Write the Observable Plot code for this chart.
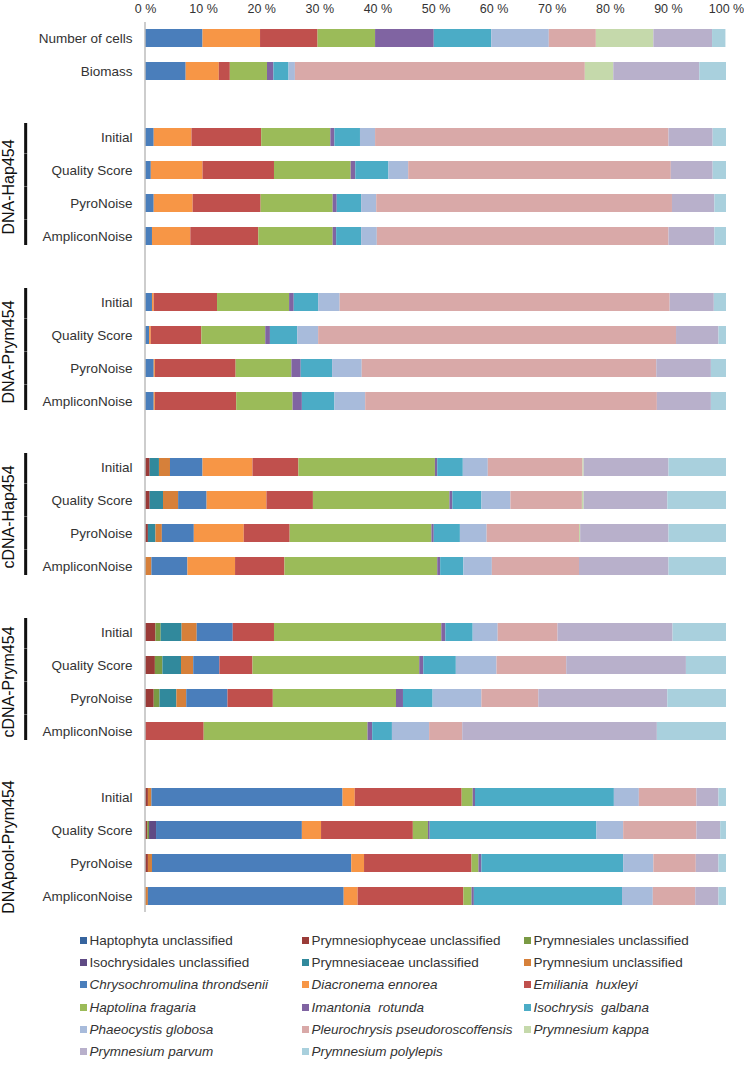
<!DOCTYPE html>
<html><head><meta charset="utf-8">
<script src="https://cdn.jsdelivr.net/npm/d3@7"></script>
<script src="https://cdn.jsdelivr.net/npm/@observablehq/plot@0.6"></script>
<style>
html,body{margin:0;padding:0;background:#fff;}
body{width:744px;font-family:"Liberation Sans",Arial,sans-serif;}
#legend{display:grid;grid-template-columns:222px 222px 222px;margin-left:80px;margin-top:4px;}
.item{height:22.3px;display:flex;align-items:center;font-size:13.5px;color:#333;white-space:pre;}
.sw{width:7px;height:7px;margin-right:2.5px;flex:none;}
</style></head>
<body><div id="chart"></div><div id="legend"></div>
<script>
// Taxa (legend / stacking order) and their colours
const taxa = [
  "Haptophyta unclassified", "Prymnesiophyceae unclassified", "Prymnesiales unclassified",
  "Isochrysidales unclassified", "Prymnesiaceae unclassified", "Prymnesium unclassified",
  "Chrysochromulina throndsenii", "Diacronema ennorea", "Emiliania  huxleyi",
  "Haptolina fragaria", "Imantonia  rotunda", "Isochrysis  galbana",
  "Phaeocystis globosa", "Pleurochrysis pseudoroscoffensis", "Prymnesium kappa",
  "Prymnesium parvum", "Prymnesium polylepis"
];
const taxonColors = [
  "#36649e", "#9a3b38", "#7a9a44", "#5f4a84", "#31899c", "#d6803a",
  "#4a7ebb", "#f79646", "#c0504d", "#9bbb59", "#8064a2", "#4bacc6",
  "#a8bbdb", "#d9a9a8", "#c5d9ab", "#b8b0cb", "#a9d0dd"
];
const firstSpeciesIndex = 6; // species names are italic

const referenceRows = ["Number of cells", "Biomass"];
const methods = ["Initial", "Quality Score", "PyroNoise", "AmpliconNoise"];
const groups = ["DNA-Hap454", "DNA-Prym454", "cDNA-Hap454", "cDNA-Prym454", "DNApool-Prym454"];
const groupHasBar = [true, true, true, true, false];

// Percent values per row, in taxa order
const numberOfCells = [0,0,0,0,0,0, 9.9, 9.9, 9.9, 9.9, 10.1, 9.9, 9.9, 8.1, 9.9, 10.1, 2.3];
const biomass       = [0,0,0,0,0,0, 7.0, 5.7, 1.9, 6.4, 1.1, 2.6, 1.1, 49.9, 4.9, 14.8, 4.6];

const dnaHap454 = [
  [0,0,0,0,0,0, 1.5, 6.5, 12.0, 11.9, 0.7, 4.4, 2.6, 50.5, 0, 7.6, 2.3],
  [0,0,0,0,0,0, 1.0, 8.9, 12.3, 13.2, 0.8, 5.7, 3.4, 45.2, 0, 7.2, 2.3],
  [0,0,0,0,0,0, 1.5, 6.7, 11.7, 12.4, 0.7, 4.2, 2.6, 50.9, 0, 7.3, 2.0],
  [0,0,0,0,0,0, 1.2, 6.6, 11.7, 12.8, 0.6, 4.3, 2.7, 50.2, 0, 7.9, 2.0]
];
const dnaPrym454 = [
  [0,0,0,0,0,0, 1.2, 0.3, 10.9, 12.4, 0.8, 4.2, 3.7, 56.8, 0, 7.6, 2.1],
  [0,0,0,0,0,0, 0.7, 0.3, 8.7, 11.0, 0.8, 4.7, 3.6, 61.6, 0, 7.3, 1.3],
  [0,0,0,0,0,0, 1.5, 0.2, 13.9, 9.6, 1.6, 5.4, 5.1, 50.7, 0, 9.4, 2.6],
  [0,0,0,0,0,0, 1.5, 0.2, 14.0, 9.7, 1.6, 5.6, 5.3, 50.2, 0, 9.3, 2.6]
];
const cdnaHap454 = [
  [0, 0.8, 0, 0, 1.6, 1.9, 5.6, 8.6, 7.9, 23.5, 0.4, 4.4, 4.3, 16.3, 0.2, 14.6, 9.9],
  [0, 0.8, 0, 0, 2.3, 2.6, 4.9, 10.3, 8.0, 23.5, 0.5, 5.0, 5.0, 12.3, 0.3, 14.4, 10.1],
  [0, 0.5, 0, 0, 1.3, 1.1, 5.5, 8.6, 7.9, 24.4, 0.4, 4.5, 4.6, 15.9, 0.2, 15.2, 9.9],
  [0, 0, 0, 0, 0, 1.1, 6.2, 8.2, 8.5, 26.3, 0.5, 4.0, 4.9, 15.0, 0, 15.4, 9.9]
];
const cdnaPrym454 = [
  [0, 1.8, 0.9, 0, 3.6, 2.6, 6.2, 0, 7.1, 28.8, 0.7, 4.7, 4.3, 10.3, 0, 19.8, 9.2],
  [0, 1.7, 1.3, 0, 3.2, 2.1, 4.5, 0, 5.7, 28.7, 0.7, 5.6, 7.0, 12.0, 0, 20.6, 6.9],
  [0, 1.5, 1.0, 0, 2.9, 1.7, 7.1, 0, 7.8, 21.2, 1.2, 5.1, 8.4, 9.8, 0, 22.2, 10.1],
  [0, 0, 0, 0, 0, 0, 0, 0, 10.1, 28.2, 0.8, 3.4, 6.4, 5.7, 0, 33.5, 11.9]
];
const dnapoolPrym454 = [
  [0, 0.5, 0, 0, 0, 0.6, 32.9, 2.1, 18.4, 1.9, 0.4, 23.9, 4.3, 9.9, 0, 3.8, 1.3],
  [0, 0.4, 0.3, 1.2, 0, 0, 25.1, 3.3, 15.8, 2.6, 0.3, 28.7, 4.6, 12.6, 0, 4.1, 1.0],
  [0, 0.5, 0, 0, 0, 0.7, 34.3, 2.2, 18.5, 1.2, 0.5, 24.4, 5.2, 7.3, 0, 3.9, 1.3],
  [0, 0, 0, 0, 0, 0.5, 33.7, 2.4, 18.2, 1.4, 0.4, 25.5, 5.3, 7.3, 0, 4.0, 1.3]
];
const xTicks = [0, 10, 20, 30, 40, 50, 60, 70, 80, 90, 100];

// ---- build table ----
const groupValues = [dnaHap454, dnaPrym454, cdnaHap454, cdnaPrym454, dnapoolPrym454];
const domain = [];
const rowKeys = [];
const rowLabel = new Map();
const data = [];
const groupRows = [];
function addRow(key, label, values) {
  domain.push(key); rowKeys.push(key); rowLabel.set(key, label);
  values.forEach((v, i) => data.push({key, taxon: taxa[i], value: v}));
}
addRow("ref|Number of cells", referenceRows[0], numberOfCells);
addRow("ref|Biomass", referenceRows[1], biomass);
groups.forEach((g, gi) => {
  domain.push("gap|" + gi);
  methods.forEach((m, mi) => {
    const key = g + "|" + m;
    addRow(key, m, groupValues[gi][mi]);
    groupRows.push({key, group: g, pos: mi, bar: groupHasBar[gi]});
  });
});
const barRows = groupRows.filter(d => d.bar);
const labelRows = groupRows.filter(d => d.pos === 1);

// group bracket position, in percent units left of the 0 % line
const bracketX1 = -20.8, bracketX2 = -20.28;

const font = '"Liberation Sans", Arial, sans-serif';
const chart = Plot.plot({
  width: 744, height: 925,
  marginLeft: 145, marginRight: 18, marginTop: 14, marginBottom: 5,
  style: {fontFamily: font, fontSize: "13.5px", color: "#333", background: "white", overflow: "visible"},
  x: {domain: [0, 100], axis: null},
  y: {domain, padding: 0.44, axis: null},
  color: {domain: taxa, range: taxonColors},
  marks: [
    Plot.barX(data, {x: "value", y: "key", fill: "taxon"}),
    Plot.ruleX([0], {stroke: "#bdbdbd", strokeWidth: 1.5, insetTop: 8, insetBottom: 8, dx: -0.5}),
    Plot.axisX({anchor: "top", label: null, ticks: xTicks, tickFormat: d => d + " %", tickSize: 0, tickPadding: 2, fontSize: 12.5}),
    Plot.axisY({label: null, ticks: rowKeys, tickFormat: k => rowLabel.get(k), tickSize: 0, tickPadding: 13, fontSize: 13.5}),
    Plot.barX(barRows.filter(d => d.pos === 0), {x1: bracketX1, x2: bracketX2, y: "key", fill: "#111", insetTop: -5, insetBottom: -7.4}),
    Plot.barX(barRows.filter(d => d.pos === 1 || d.pos === 2), {x1: bracketX1, x2: bracketX2, y: "key", fill: "#111", insetTop: -7.4, insetBottom: -7.4}),
    Plot.barX(barRows.filter(d => d.pos === 3), {x1: bracketX1, x2: bracketX2, y: "key", fill: "#111", insetTop: -7.4, insetBottom: 0}),
    Plot.text(labelRows, {x: 0, y: "key", text: "group", rotate: -90, dx: -136.5, dy: 16.5, fontSize: 16, fill: "#111"})
  ]
});
document.getElementById("chart").appendChild(chart);

// ---- legend ----
const legend = document.getElementById("legend");
taxa.forEach((t, i) => {
  const item = document.createElement("div");
  item.className = "item";
  const sw = document.createElement("span");
  sw.className = "sw";
  sw.style.background = taxonColors[i];
  const tx = document.createElement("span");
  tx.textContent = t;
  if (i >= firstSpeciesIndex) tx.style.fontStyle = "italic";
  item.appendChild(sw); item.appendChild(tx);
  legend.appendChild(item);
});
</script>
</body></html>
